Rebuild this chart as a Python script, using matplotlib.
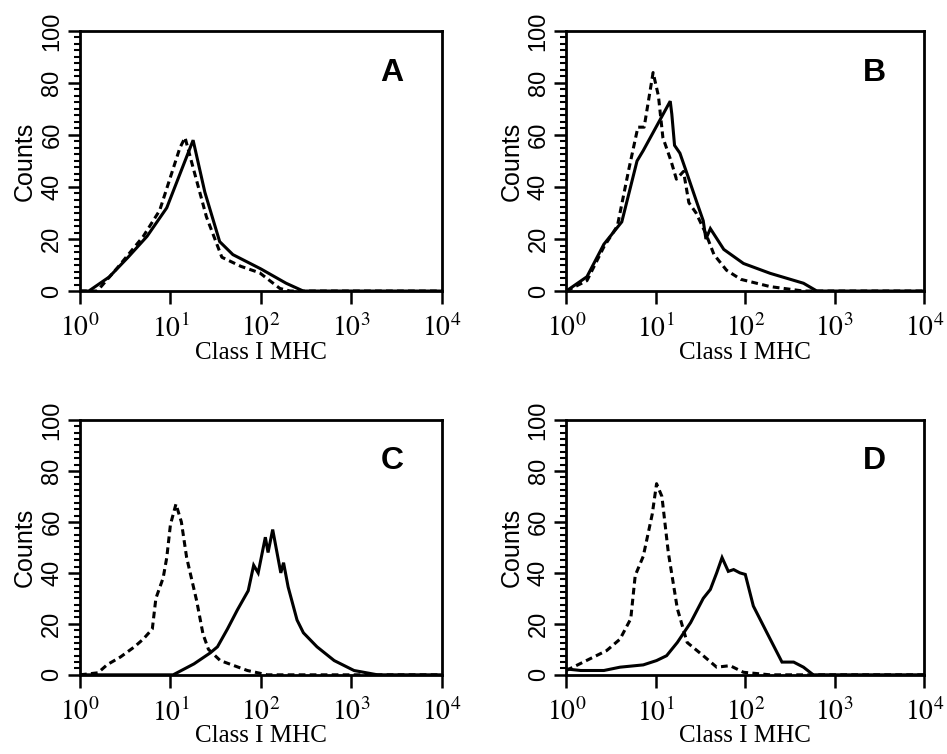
import numpy as np
import matplotlib
matplotlib.use("Agg")
import matplotlib.pyplot as plt
from matplotlib.ticker import MultipleLocator, LogLocator, NullFormatter

plt.rcParams["font.family"] = ["Liberation Sans", "DejaVu Sans"]
plt.rcParams["mathtext.fontset"] = "stix"

# --- data (fluorescence, counts) ---
a_solid_x = [1, 1.25, 2.1, 3.4, 5.5, 9.1, 17.8, 24, 35, 49, 100, 190, 294, 10000]
a_solid_y = [0, 0, 5.4, 13, 21, 32, 58, 38, 19, 14, 8.5, 3, 0, 0]
a_dash_x = [1, 1.55, 2.6, 5.0, 7.6, 12.7, 14.5, 17, 25, 37, 60, 97, 162, 210, 10000]
a_dash_y = [0, 0, 9, 21, 31, 55, 59, 50, 28.5, 13, 9.5, 7, 1, 0, 0]

b_solid_x = [1, 1.7, 2.63, 4.17, 6.17, 7.24, 14.5, 15.1, 16.2, 18.6, 22.4, 28.8,
             33.9, 36.3, 40.7, 57.5, 95.5, 190, 447, 631, 10000]
b_solid_y = [0, 5.5, 18, 26.6, 50, 54, 73, 68, 56, 53, 45, 34,
             27, 20, 24, 16, 10.6, 6.8, 3, 0, 0]
b_dash_x = [1, 1.7, 2.63, 3.72, 5.01, 6.31, 7.41, 9.33, 10.7, 12.0, 14.8, 17.0,
            20.4, 23.4, 28.2, 36.3, 44.7, 61.7, 89.1, 190, 447, 10000]
b_dash_y = [0, 4, 17, 25, 47, 63, 63, 84, 75, 59, 50, 43,
            46, 34, 30, 22, 14, 8, 4.5, 1.7, 0, 0]

c_solid_x = [1, 10.7, 18.2, 27.5, 33.1, 42.7, 55.0, 72.4, 83.2, 93.3, 112, 120, 135,
             166, 178, 200, 251, 295, 417, 646, 1070, 1950, 10000]
c_solid_y = [0, 0, 4.3, 8.6, 11, 18, 25.5, 33, 43, 40, 54, 48, 57,
             40, 44, 34.5, 21.5, 16.5, 11, 5.6, 1.7, 0, 0]
c_dash_x = [1, 1.58, 2.0, 2.8, 4.0, 5.0, 6.3, 6.9, 8.3, 9.1, 10, 11.5, 13.2, 15.1,
            19.5, 22.9, 26.3, 35.5, 70.8, 117, 10000]
c_dash_y = [0, 0.8, 4, 7, 11, 14, 18, 30, 38, 46, 59, 67, 60, 46,
            29, 16, 10, 5.6, 1.7, 0, 0]

d_solid_x = [1, 1.45, 2.63, 3.98, 7.24, 10.2, 13.2, 17.4, 24.5, 33.9, 40.7, 47.9,
             55.0, 64.6, 74.1, 87.1, 100, 123, 174, 257, 347, 447, 575, 10000]
d_solid_y = [2.3, 1.7, 1.7, 3, 3.9, 5.6, 7.5, 12.7, 20.5, 30, 33.5, 40,
             46, 40.6, 41.3, 40, 39.4, 27, 16.6, 5, 5, 3, 0, 0]
d_dash_x = [1, 1.55, 2.82, 3.98, 5.25, 5.89, 7.24, 9.12, 10.2, 11.7, 13.8, 17.4,
            22.4, 33.9, 47.9, 67.6, 95.5, 190, 10000]
d_dash_y = [1.7, 5, 9.5, 14, 22, 39, 46.5, 63, 75, 70, 48, 26,
            12.7, 7.5, 3, 3.6, 1, 0, 0]

panels = [
    ("A", a_solid_x, a_solid_y, a_dash_x, a_dash_y),
    ("B", b_solid_x, b_solid_y, b_dash_x, b_dash_y),
    ("C", c_solid_x, c_solid_y, c_dash_x, c_dash_y),
    ("D", d_solid_x, d_solid_y, d_dash_x, d_dash_y),
]
boxes = [
    [0.0845, 0.614, 0.382, 0.345],
    [0.598, 0.614, 0.378, 0.345],
    [0.0845, 0.105, 0.382, 0.338],
    [0.598, 0.105, 0.378, 0.338],
]
decades = [1, 10, 100, 1000, 10000]
ticklabels = [r"$\mathrm{10^{%d}}$" % i for i in range(5)]

fig = plt.figure(figsize=(9.47, 7.54), dpi=100)

for (letter, sx, sy, dx, dy), box in zip(panels, boxes):
    ax = fig.add_axes(box)
    ax.plot(sx, sy, color="black", lw=2.2, solid_joinstyle="miter")
    ax.plot(dx, dy, color="black", lw=2.2, linestyle=(0, (2.2, 1.4)))
    ax.set_xscale("log")
    ax.set_xlim(1, 10000)
    ax.set_ylim(0, 100)

    ax.set_xticks(decades, labels=ticklabels)
    ax.xaxis.set_minor_locator(LogLocator(base=10, subs=np.arange(2, 10)))
    ax.xaxis.set_minor_formatter(NullFormatter())
    ax.set_yticks([0, 20, 40, 60, 80, 100])
    ax.yaxis.set_minor_locator(MultipleLocator(2.5))

    ax.tick_params(axis="both", which="major", direction="out", length=9,
                   width=1.8)
    ax.tick_params(axis="x", which="major", labelsize=20, pad=8)
    ax.tick_params(axis="y", which="major", labelsize=17, labelrotation=90, pad=3)
    ax.tick_params(axis="both", which="minor", direction="out", length=4, width=1.5)
    for lab in ax.get_yticklabels():
        lab.set_verticalalignment("center")

    for sp in ax.spines.values():
        sp.set_linewidth(2.0)

    ax.set_ylabel("Counts", fontsize=18, labelpad=3)
    ax.set_xlabel("Class I MHC", fontsize=18, family="Liberation Serif", labelpad=-1)
    ax.text(0.862, 0.84, letter, transform=ax.transAxes, fontsize=23,
            fontweight="bold", ha="center", va="center")

fig.savefig("out.png", dpi=100)
